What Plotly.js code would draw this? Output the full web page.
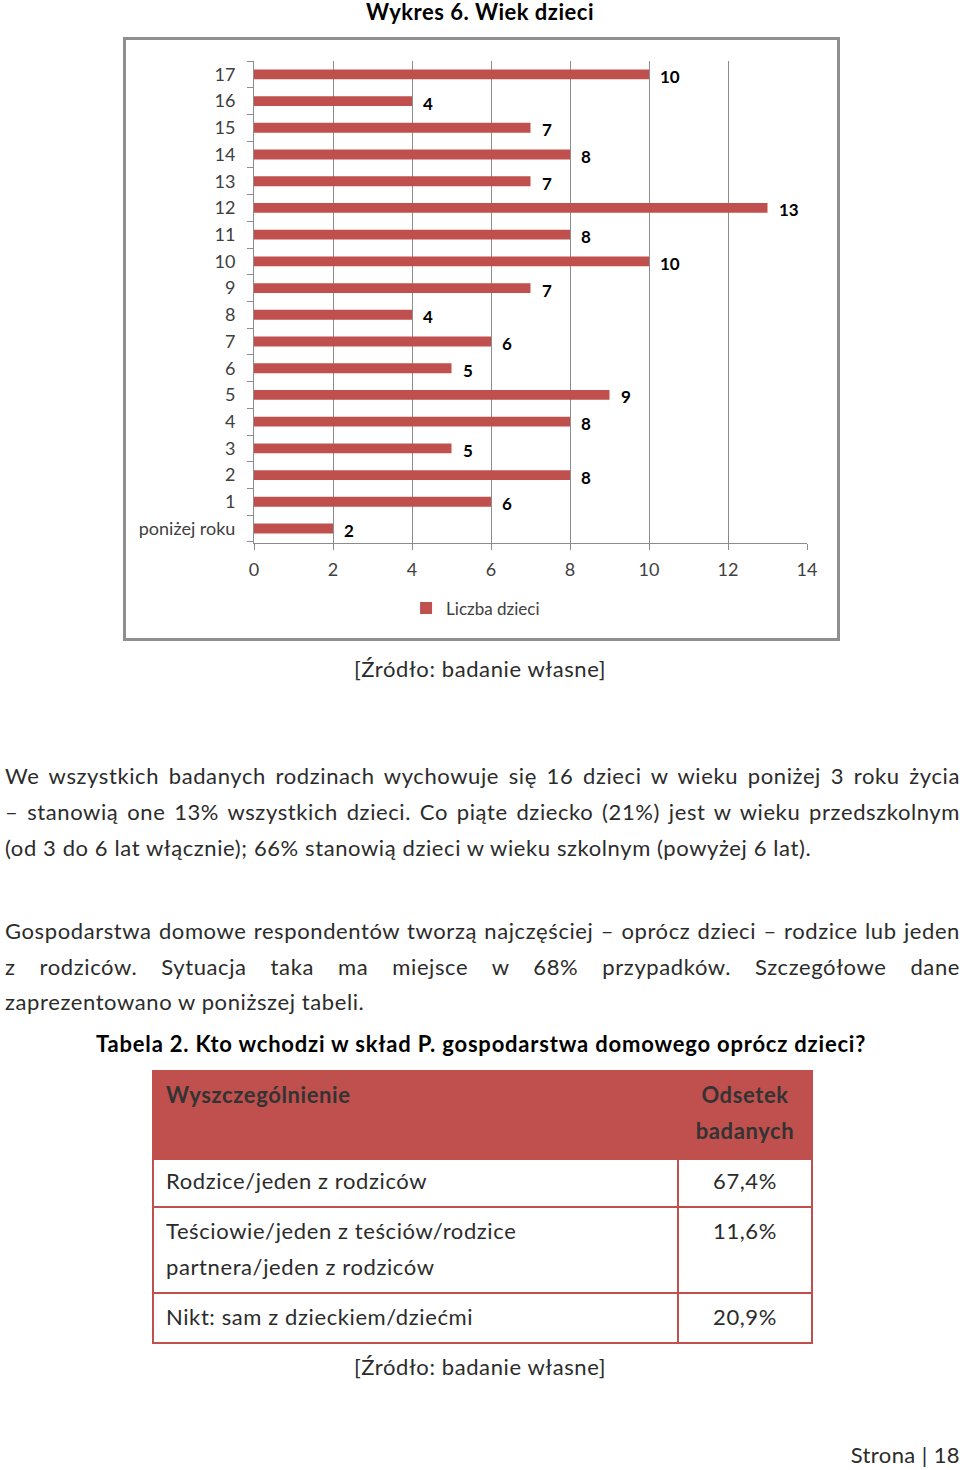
<!DOCTYPE html>
<html>
<head>
<meta charset="utf-8">
<script src="https://cdn.plot.ly/plotly-3.0.1.min.js"></script>
<style>
  html, body { margin:0; padding:0; background:#fff; }
  body { width:960px; height:1470px; position:relative; overflow:hidden;
         font-family: Lato, "Open Sans", sans-serif; color:#2b2b2b; }
  .abs { position:absolute; white-space:nowrap; }
  .title { font-weight:bold; font-size:22px; color:#000; }
  .line { position:absolute; left:5px; width:955px; height:36px; line-height:36px;
          font-size:22px; letter-spacing:0.6px; white-space:nowrap; }
  .just { text-align:justify; text-align-last:justify; white-space:normal; }
  .src { font-size:22px; letter-spacing:0.6px; width:960px; left:0; text-align:center; height:30px; line-height:30px; }
  #frame { position:absolute; left:123px; top:37px; width:717px; height:604px;
           border:3px solid #8f8f8f; box-sizing:border-box; }
  #chart { position:absolute; left:126px; top:40px; width:711px; height:598px; }
  table { position:absolute; left:152px; top:1070px; width:659px; border-collapse:collapse;
          table-layout:fixed; font-size:22px; letter-spacing:0.6px; color:#2b2b2b; }
  td, th { border:2px solid #C0504D; padding:0 12px; vertical-align:top; line-height:36px; white-space:nowrap; }
  th { background:#C0504D; font-weight:bold; color:#333; text-align:left; }
  .c2 { text-align:center; padding:0; }
</style>
</head>
<body>
<div class="abs title" style="left:0;width:960px;text-align:center;top:0;height:24px;line-height:24px;letter-spacing:0.5px;">Wykres 6. Wiek dzieci</div>
<div id="frame"></div>
<div id="chart"></div>

<div class="abs src" style="top:654px;">[Źródło: badanie własne]</div>

<div class="line just" style="top:758px;">We wszystkich badanych rodzinach wychowuje się 16 dzieci w wieku poniżej 3 roku życia</div>
<div class="line just" style="top:794px;">– stanowią one 13% wszystkich dzieci. Co piąte dziecko (21%) jest w wieku przedszkolnym</div>
<div class="line" style="top:830px;">(od 3 do 6 lat włącznie); 66% stanowią dzieci w wieku szkolnym (powyżej 6 lat).</div>

<div class="line just" style="top:913px;">Gospodarstwa domowe respondentów tworzą najczęściej – oprócz dzieci – rodzice lub jeden</div>
<div class="line just" style="top:949px;">z rodziców. Sytuacja taka ma miejsce w 68% przypadków. Szczegółowe dane</div>
<div class="line" style="top:984px;">zaprezentowano w poniższej tabeli.</div>

<div class="abs title" style="left:96px;top:1031px;height:26px;line-height:26px;letter-spacing:0.8px;">Tabela 2. Kto wchodzi w skład P. gospodarstwa domowego oprócz dzieci?</div>

<table>
  <colgroup><col style="width:525px"><col style="width:134px"></colgroup>
  <tr style="height:88px;"><th style="padding-top:5px;">Wyszczególnienie</th><th class="c2" style="text-align:center;padding-top:5px;">Odsetek<br>badanych</th></tr>
  <tr style="height:48px;"><td style="padding-top:3px;">Rodzice/jeden z rodziców</td><td class="c2" style="padding-top:3px;">67,4%</td></tr>
  <tr style="height:86px;"><td style="padding-top:5px;">Teściowie/jeden z teściów/rodzice<br>partnera/jeden z rodziców</td><td class="c2" style="padding-top:5px;">11,6%</td></tr>
  <tr style="height:50px;"><td style="padding-top:5px;">Nikt: sam z dzieckiem/dziećmi</td><td class="c2" style="padding-top:5px;">20,9%</td></tr>
</table>

<div class="abs src" style="top:1352px;">[Źródło: badanie własne]</div>
<div class="abs" style="right:0;top:1441px;font-size:22px;letter-spacing:0.4px;height:28px;line-height:28px;">Strona | 18</div>

<script>
const categories = ['poniżej roku','1','2','3','4','5','6','7','8','9','10','11','12','13','14','15','16','17'];
const counts = [2,6,8,5,8,9,5,6,4,7,10,8,13,7,8,7,4,10];
const seriesName = 'Liczba dzieci';
const xTicks = [0,2,4,6,8,10,12,14];

const FONT = 'Lato, "Open Sans", sans-serif';
const barColor = '#C0504D';
const gridColor = '#8c8c8c';

const trace = {
  type:'bar', orientation:'h',
  x: counts, y: categories,
  name: seriesName,
  marker:{color: barColor},
  showlegend:true,
  hoverinfo:'skip'
};

const annotations = categories.map((c,i)=>({
  x: counts[i], y: c, xref:'x', yref:'y',
  text: String(counts[i]), showarrow:false,
  xanchor:'left', yanchor:'middle', xshift:9, yshift:-2,
  font:{family:FONT, size:17, color:'#000', weight:'bold'}
}));

const layout = {
  width:711, height:598,
  margin:{l:128, r:30, t:21, b:93},
  paper_bgcolor:'rgba(0,0,0,0)', plot_bgcolor:'rgba(0,0,0,0)',
  bargap:0.63,
  font:{family:FONT, size:18, color:'#404040'},
  xaxis:{
    range:[0,14], tickvals:xTicks, ticktext:xTicks.map(String),
    showgrid:true, gridcolor:gridColor, gridwidth:1,
    zeroline:false, showline:true, linecolor:gridColor, linewidth:1,
    ticks:'outside', ticklen:6, tickcolor:gridColor,
    ticklabelstandoff:4,
    tickfont:{family:FONT, size:18, color:'#404040'}
  },
  yaxis:{
    type:'category', categoryorder:'array', categoryarray:categories,
    showgrid:false, zeroline:false, showline:true, linecolor:gridColor, linewidth:1,
    ticks:'outside', ticklen:6, tickcolor:gridColor, tickson:'boundaries',
    ticklabelstandoff:14,
    tickfont:{family:FONT, size:18, color:'#404040'}
  },
  legend:{
    orientation:'h', x:0.275, xanchor:'left', y:-0.136, yanchor:'middle',
    font:{family:FONT, size:17, color:'#404040'},
    bgcolor:'rgba(0,0,0,0)'
  },
  annotations: annotations
};

Plotly.newPlot('chart', [trace], layout, {displayModeBar:false, staticPlot:true});
</script>
</body>
</html>
